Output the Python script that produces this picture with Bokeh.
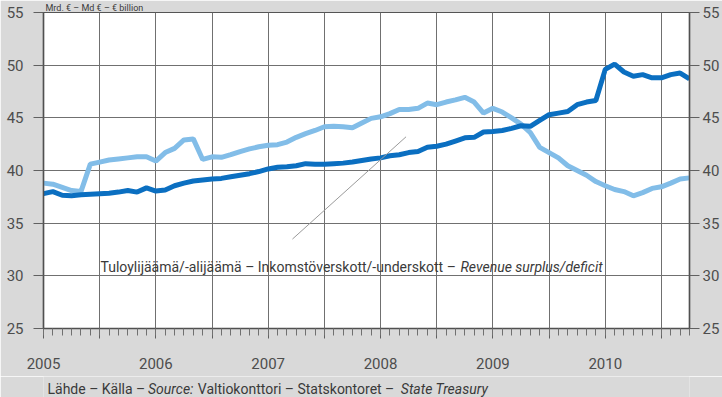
from bokeh.plotting import figure
from bokeh.models import Range1d, FixedTicker, LinearAxis, Label, Title
from bokeh.layouts import column
from bokeh.core.properties import value
from bokeh.embed import file_html
from bokeh.resources import INLINE

# Monthly values, Jan 2005 - Oct 2010 (bn EUR)
expenditure = [37.8, 38.0, 37.65, 37.6, 37.7, 37.75, 37.8, 37.85, 37.95, 38.1,
               37.95, 38.35, 38.05, 38.15, 38.55, 38.8, 39.0, 39.1, 39.2, 39.25,
               39.4, 39.55, 39.7, 39.9, 40.15, 40.3, 40.35, 40.45, 40.65, 40.6,
               40.6, 40.65, 40.7, 40.8, 40.95, 41.1, 41.2, 41.4, 41.5, 41.7,
               41.8, 42.2, 42.3, 42.5, 42.8, 43.1, 43.15, 43.65, 43.7, 43.8,
               44.0, 44.25, 44.2, 44.75, 45.3, 45.45, 45.6, 46.25, 46.5, 46.65,
               49.6, 50.1, 49.35, 48.95, 49.1, 48.8, 48.8, 49.1, 49.25, 48.7]
revenue = [38.8, 38.7, 38.4, 38.1, 38.0, 40.6, 40.8, 41.0, 41.1, 41.2,
           41.3, 41.3, 40.9, 41.7, 42.1, 42.9, 43.0, 41.05, 41.3, 41.25,
           41.5, 41.8, 42.05, 42.25, 42.4, 42.45, 42.7, 43.15, 43.5, 43.8,
           44.15, 44.2, 44.15, 44.05, 44.5, 44.95, 45.1, 45.4, 45.8, 45.8,
           45.9, 46.4, 46.25, 46.5, 46.7, 46.95, 46.5, 45.45, 45.9, 45.55,
           45.0, 44.4, 43.6, 42.2, 41.7, 41.2, 40.45, 40.0, 39.55, 38.95,
           38.55, 38.2, 38.0, 37.6, 37.9, 38.3, 38.45, 38.8, 39.2, 39.3]
start_year = 2005
months = [start_year + i / 12 for i in range(len(revenue))]

years = [2005, 2006, 2007, 2008, 2009, 2010]
half_years = [2005.5, 2006.5, 2007.5, 2008.5, 2009.5, 2010.5]
y_ticks = [25, 30, 35, 40, 45, 50, 55]

unit_title = "Mrd. € – Md € – € billion"
note_parts = ["Tuloylijäämä/-alijäämä – Inkomstöverskott/-underskott –",
              "Revenue surplus/deficit"]
source_parts = ["Lähde – Källa –", "Source:",
                "Valtiokonttori – Statskontoret –", "State Treasury"]

FONT = "Roboto"
TXT = "#3a3a3a"
TICK_TXT = "#4d4d4d"
BG = "#d9d9d9"

p = figure(width=722, height=376, output_backend="svg", toolbar_location=None,
           x_range=Range1d(2005, 2010.75), y_range=Range1d(25, 55),
           min_border_left=43, min_border_right=30, min_border_top=10,
           min_border_bottom=48)
p.background_fill_color = "white"
p.border_fill_color = BG
p.outline_line_color = "#555555"
p.outline_line_width = 1.2

p.add_layout(Title(text=unit_title, align="left", offset=2, standoff=0,
                   text_font=FONT, text_font_size="9px", text_line_height=1.0,
                   text_font_style="normal", text_color=TXT), "above")

major_x = sorted(years + half_years)
minor_x = [start_year + m / 12 for m in range(0, 70)]
p.xaxis.ticker = FixedTicker(ticks=major_x, minor_ticks=minor_x)
p.xaxis.major_label_overrides = {t: (str(int(t)) if t in years else "") for t in major_x}
p.xaxis.major_tick_out = 10
p.xaxis.major_tick_in = 0
p.xaxis.minor_tick_out = 7
p.xaxis.minor_tick_in = 0
p.xaxis.major_label_standoff = 19

p.yaxis.ticker = FixedTicker(ticks=y_ticks)
p.yaxis.major_tick_out = 10
p.yaxis.major_tick_in = 0
p.yaxis.minor_tick_line_color = None
p.yaxis.major_label_standoff = 10

right = LinearAxis(ticker=FixedTicker(ticks=y_ticks), major_tick_out=10,
                   major_tick_in=0, minor_tick_line_color=None,
                   major_label_standoff=3)
p.add_layout(right, "right")

for ax in (p.xaxis[0], p.yaxis[0], right):
    ax.axis_line_color = "#505050"
    ax.axis_line_width = 1.5
    ax.major_tick_line_color = "#606060"
    ax.major_label_text_font = FONT
    ax.major_label_text_font_size = "15px"
    ax.major_label_text_color = TICK_TXT
p.xaxis.minor_tick_line_color = "#707070"

p.xgrid.ticker = FixedTicker(ticks=major_x)
p.xgrid.grid_line_color = "#707070"
p.ygrid.grid_line_color = "#707070"
p.xgrid.grid_line_width = 1
p.ygrid.grid_line_width = 1

p.line(months, revenue, line_width=5, line_color="#82bde8")
p.line(months, expenditure, line_width=5, line_color="#0b6fc1")

# leader line of the annotation
p.segment(x0=[2007.216], y0=[33.49], x1=[2008.227], y1=[43.2],
          line_color="#9a9a9a", line_width=1)

# annotation inside the plot frame (x in px from frame's left edge)
p.add_layout(Label(x=57, x_units="screen", y=30.85, text=note_parts[0],
                   text_baseline="alphabetic", text_font=FONT,
                   text_font_size="14px", text_color=TXT))
p.add_layout(Label(x=417, x_units="screen", y=30.85, text=note_parts[1],
                   text_baseline="alphabetic", text_font=FONT,
                   text_font_size="14px", text_color=TXT,
                   text_font_style="italic"))

# source strip below the chart (its frame is aligned with the chart frame,
# so the x range is given in page pixels of that frame: 43..692)
s = figure(width=722, height=21, output_backend="svg", toolbar_location=None,
           x_range=Range1d(43, 692), y_range=Range1d(0, 21),
           x_axis_location=None, y_axis_location=None, min_border=0)
s.grid.visible = False
s.outline_line_color = None
s.background_fill_color = BG
s.border_fill_color = BG
src_x = [47, 148, 198, 402]
src_style = ["normal", "italic", "normal", "italic"]
for xx, tt, st in zip(src_x, source_parts, src_style):
    s.text(x=[xx], y=[9], text=[tt], text_font=value(FONT),
           text_font_size=value("14px"), text_font_style=value(st),
           text_color=TXT, text_baseline="alphabetic")

layout = column(p, s, spacing=0)
open("out.html", "w").write(file_html(layout, INLINE))
